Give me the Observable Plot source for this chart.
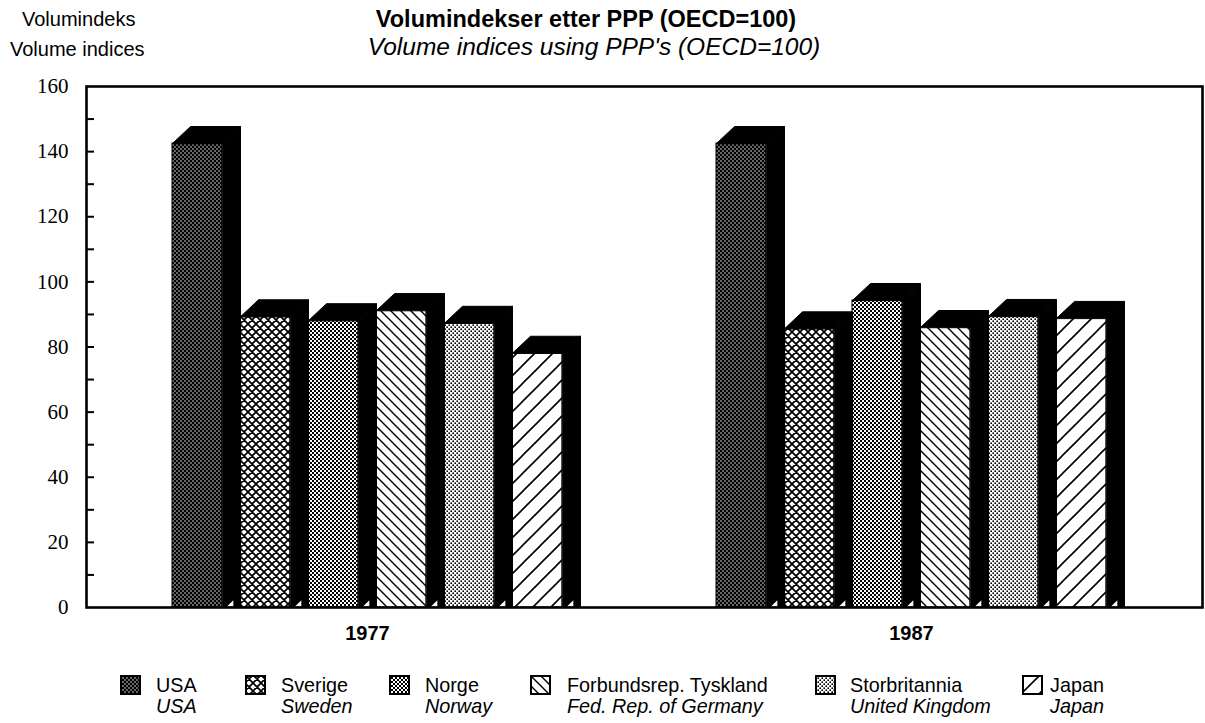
<!DOCTYPE html>
<html>
<head>
<meta charset="utf-8">
<script src="https://cdn.jsdelivr.net/npm/d3@7"></script>
<script src="https://cdn.jsdelivr.net/npm/@observablehq/plot@0.6"></script>
<style>
  html, body { margin: 0; padding: 0; background: #fff; }
  #wrap { position: relative; width: 1205px; height: 723px; overflow: hidden; font-family: "Liberation Sans", Arial, sans-serif; color: #000; }
  .t { position: absolute; white-space: nowrap; line-height: 1; }
  .leg { position: absolute; white-space: nowrap; font-size: 19.8px; line-height: 20px; }
  .sw { position: absolute; }
</style>
</head>
<body>
<svg width="0" height="0" style="position:absolute">
  <defs>
    <pattern id="pUSA" width="4" height="4" patternUnits="userSpaceOnUse">
      <rect width="4" height="4" fill="#000"/>
      <circle cx="1" cy="1" r="0.75" fill="#fff"/>
      <circle cx="3" cy="3" r="0.75" fill="#fff"/>
    </pattern>
    <pattern id="pSWE" width="8" height="8" patternUnits="userSpaceOnUse">
      <rect width="8" height="8" fill="#fff"/>
      <path d="M0,0L8,8M8,0L0,8M-1,1L1,-1M7,9L9,7M-1,7L1,9M7,-1L9,1" stroke="#000" stroke-width="1.7"/>
    </pattern>
    <pattern id="pNOR" width="4" height="4" patternUnits="userSpaceOnUse">
      <rect width="4" height="4" fill="#fff"/>
      <rect x="0" y="0" width="2" height="2" fill="#000"/>
      <rect x="2" y="2" width="2" height="2" fill="#000"/>
    </pattern>
    <pattern id="pGER" width="10" height="10" patternUnits="userSpaceOnUse">
      <rect width="10" height="10" fill="#fff"/>
      <path d="M0,0L10,10M-1,9L1,11M9,-1L11,1" stroke="#000" stroke-width="1.4"/>
    </pattern>
    <pattern id="pGBR" width="4" height="4" patternUnits="userSpaceOnUse">
      <rect width="4" height="4" fill="#fff"/>
      <rect x="0.4" y="0.4" width="1.6" height="1.6" fill="#000"/>
      <rect x="2.4" y="2.4" width="1.6" height="1.6" fill="#000"/>
    </pattern>
    <pattern id="pJPN" width="18" height="18" patternUnits="userSpaceOnUse">
      <rect width="18" height="18" fill="#fff"/>
      <path d="M0,18L18,0M-2,2L2,-2M16,20L20,16" stroke="#000" stroke-width="1.6"/>
    </pattern>
  </defs>
</svg>
<div id="wrap">
  <div class="t" style="left:22px;top:9px;font-size:20px;">Volumindeks</div>
  <div class="t" style="left:10px;top:39px;font-size:20px;">Volume indices</div>
  <div class="t" style="left:586px;top:8px;font-size:23.5px;font-weight:bold;transform:translateX(-50%);">Volumindekser etter PPP (OECD=100)</div>
  <div class="t" style="left:594px;top:35px;font-size:24.5px;font-style:italic;transform:translateX(-50%);">Volume indices using PPP's (OECD=100)</div>
  <div id="chart" style="position:absolute;left:0;top:60px;"></div>
  <div id="legend"></div>
</div>
<script>
// ---- data ----
const years = ["1977", "1987"];
const countries = ["USA", "Sverige", "Norge", "Forbundsrep. Tyskland", "Storbritannia", "Japan"];
const countriesEn = ["USA", "Sweden", "Norway", "Fed. Rep. of Germany", "United Kingdom", "Japan"];
const values1977 = [142.5, 89.3, 88.1, 91.2, 87.3, 78.1];
const values1987 = [142.5, 85.6, 94.3, 86.0, 89.4, 88.8];
const yTicks = [0, 20, 40, 60, 80, 100, 120, 140, 160];
const patterns = ["url(#pUSA)", "url(#pSWE)", "url(#pNOR)", "url(#pGER)", "url(#pGBR)", "url(#pJPN)"];

// ---- layout in slot units (one slot = one bar incl. its depth) ----
const groupGap = 8;           // slots between first bars of each group
const frontW = 50 / 68;       // front face width in slots
const depthX = 18 / 68;       // 3D depth in slots
const depthY = 5.2;           // 3D depth in value units
const xDomain = [-86 / 68, 1030 / 68];

const series = [values1977, values1987];
const bars = [];
years.forEach((yr, g) => {
  countries.forEach((c, i) => {
    bars.push({year: yr, country: c, i, slot: g * groupGap + i, value: series[g][i], fill: patterns[i]});
  });
});

const polys = [];
const notches = [];
bars.forEach((b, k) => {
  const x1 = b.slot, x2 = b.slot + frontW, v = b.value;
  // top face
  [[x1, v], [x1 + depthX, v + depthY], [x2 + depthX, v + depthY], [x2, v]]
    .forEach(([x, y]) => polys.push({id: "t" + k, x, y}));
  // side face
  [[x2, v], [x2 + depthX, v + depthY], [x2 + depthX, 0], [x2, 0]]
    .forEach(([x, y]) => polys.push({id: "s" + k, x, y}));
  // small light notch at the foot of the side face
  [[x2 + depthX * 0.25, 0.3], [x2 + depthX * 0.6, 0.3], [x2 + depthX * 0.6, 2.2]]
    .forEach(([x, y]) => notches.push({id: "n" + k, x, y}));
});

const minor = d3.range(10, 160, 10);
const groupCenters = years.map((yr, g) => g * groupGap + (countries.length - 1) / 2 + frontW / 2);

const chart = Plot.plot({
  width: 1205,
  height: 590,
  marginLeft: 86,
  marginRight: 3,
  marginTop: 26,
  marginBottom: 43,
  style: {background: "transparent", overflow: "visible"},
  x: {type: "linear", domain: xDomain, axis: null},
  y: {domain: [0, 160], axis: null},
  color: {type: "identity"},
  marks: [
    Plot.rect(bars, {x1: "slot", x2: d => d.slot + frontW, y1: 0, y2: "value", fill: "fill", stroke: "#000", strokeWidth: 1}),
    Plot.line(polys, {x: "x", y: "y", z: "id", fill: "#000", stroke: "#000", strokeWidth: 1, curve: "linear-closed"}),
    Plot.line(notches, {x: "x", y: "y", z: "id", fill: "#fff", stroke: "none", curve: "linear-closed"}),
    Plot.ruleY(minor, {x1: xDomain[0], x2: xDomain[0] + 8 / 68, stroke: "#000", strokeWidth: 2}),
    Plot.axisY(yTicks, {tickSize: 0, tickPadding: 18, fontSize: 21, fontFamily: "Liberation Serif, Times New Roman, serif", fill: "#000"}),
    Plot.text(years, {x: (d, i) => groupCenters[i], y: 0, dy: 26, text: d => d, fontSize: 20, fontWeight: "bold", fontFamily: "Liberation Sans, Arial, sans-serif", fill: "#000"}),
    Plot.frame({stroke: "#000", strokeWidth: 2.6})
  ]
});
document.getElementById("chart").appendChild(chart);

// ---- legend ----
const legendPos = [
  {sw: 120, tx: 156},
  {sw: 245, tx: 281},
  {sw: 389, tx: 425},
  {sw: 530, tx: 567},
  {sw: 815, tx: 850},
  {sw: 1022, tx: 1050}
];
const legend = document.getElementById("legend");
countries.forEach((c, i) => {
  const p = legendPos[i];
  const sw = document.createElementNS("http://www.w3.org/2000/svg", "svg");
  sw.setAttribute("width", 21);
  sw.setAttribute("height", 20);
  sw.setAttribute("class", "sw");
  sw.style.left = p.sw + "px";
  sw.style.top = "675px";
  sw.innerHTML = `<rect x="1" y="1" width="19" height="18" fill="${patterns[i]}" stroke="#000" stroke-width="2"/>`;
  legend.appendChild(sw);
  const t1 = document.createElement("div");
  t1.className = "leg";
  t1.style.left = p.tx + "px";
  t1.style.top = "675px";
  t1.textContent = c;
  legend.appendChild(t1);
  const t2 = document.createElement("div");
  t2.className = "leg";
  t2.style.left = p.tx + "px";
  t2.style.top = "696px";
  t2.style.fontStyle = "italic";
  t2.textContent = countriesEn[i];
  legend.appendChild(t2);
});
</script>
</body>
</html>
